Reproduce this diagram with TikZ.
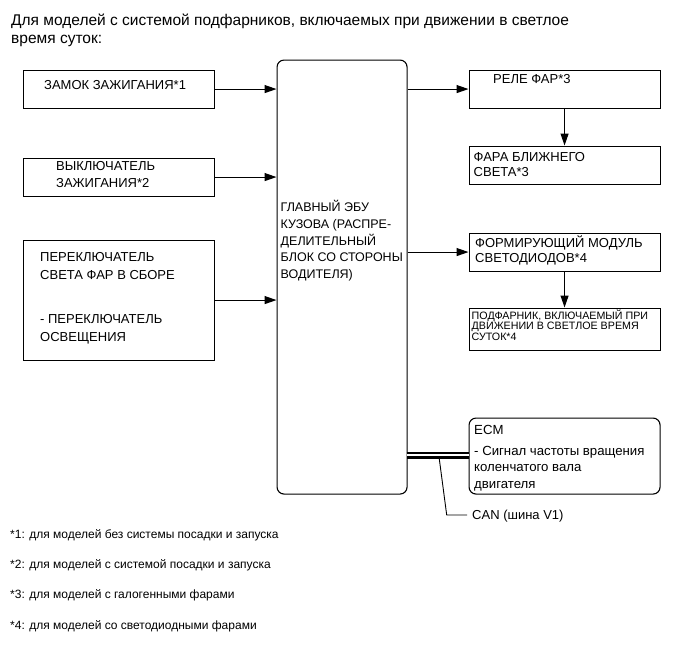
\documentclass[tikz,border=0pt]{standalone}
\usepackage{fontspec}
\setmainfont{Liberation Sans}
\usetikzlibrary{arrows.meta}
\begin{document}
\begin{tikzpicture}[x=1pt,y=-1pt,
  box/.style={draw=black, line width=1.1pt, anchor=north west, inner sep=0pt},
  rbox/.style={box, rounded corners=7pt},
  ln/.style={anchor=base west, inner sep=0pt},
  big/.style={ln, font=\fontsize{13}{15}\selectfont},
  ecmf/.style={ln, font=\fontsize{13.2}{15}\selectfont},
  mid/.style={ln, font=\fontsize{12.5}{15}\selectfont},
  tiny/.style={ln, font=\fontsize{10.7}{12}\selectfont},
  note/.style={ln, font=\fontsize{12}{14}\selectfont},
  ttl/.style={ln, font=\fontsize{15.5}{18}\selectfont},
  arr/.style={line width=1.1pt, -{Triangle[length=12pt,width=8pt]}}]
\useasboundingbox (0,0) rectangle (690,659);
% title
\node[ttl] (title1) at (11,25.7) {Для моделей с системой подфарников, включаемых при движении в светлое};
\node[ttl] (title2) at (11,43.5) {время суток:};
% left boxes
\node[box, minimum width=191pt, minimum height=38pt] (b1) at (22.5,69.5) {};
\node[big] (t1) at (44,89.5) {ЗАМОК ЗАЖИГАНИЯ*1};
\node[box, minimum width=191pt, minimum height=38pt] (b2) at (22.5,157.5) {};
\node[big] (t2a) at (56,170.5) {ВЫКЛЮЧАТЕЛЬ};
\node[big] (t2b) at (56,187.5) {ЗАЖИГАНИЯ*2};
\node[box, minimum width=191pt, minimum height=120pt] (b3) at (22.5,239.5) {};
\node[big] (t3a) at (40,261) {ПЕРЕКЛЮЧАТЕЛЬ};
\node[big] (t3b) at (40,279) {СВЕТА ФАР В СБОРЕ};
\node[big] (t3c) at (40,323) {- ПЕРЕКЛЮЧАТЕЛЬ};
\node[big] (t3d) at (40,341) {ОСВЕЩЕНИЯ};
% main
\node[rbox, minimum width=130pt, minimum height=434pt] (main) at (276.5,59.5) {};
\node[mid] (m1) at (280.5,211.7) {ГЛАВНЫЙ ЭБУ};
\node[mid] (m2) at (280.5,228.4) {КУЗОВА (РАСПРЕ-};
\node[mid] (m3) at (280.5,245.1) {ДЕЛИТЕЛЬНЫЙ};
\node[mid] (m4) at (280.5,261.8) {БЛОК СО СТОРОНЫ};
\node[mid] (m5) at (280.5,278.5) {ВОДИТЕЛЯ)};
% right boxes
\node[box, minimum width=191pt, minimum height=38pt] (r1) at (468.5,69.5) {};
\node[big] (tr1) at (493,83.3) {РЕЛЕ ФАР*3};
\node[box, minimum width=191pt, minimum height=38pt] (r2) at (468.5,145.5) {};
\node[big] (tr2a) at (473.5,161) {ФАРА БЛИЖНЕГО};
\node[big] (tr2b) at (473.5,176) {СВЕТА*3};
\node[box, minimum width=191pt, minimum height=38pt] (r3) at (468.5,232.5) {};
\node[big] (tr3a) at (475,247.5) {ФОРМИРУЮЩИЙ МОДУЛЬ};
\node[big] (tr3b) at (475,262) {СВЕТОДИОДОВ*4};
\node[box, minimum width=191pt, minimum height=42pt] (r4) at (468.5,307.5) {};
\node[tiny] (tr4a) at (471.5,319.3) {ПОДФАРНИК, ВКЛЮЧАЕМЫЙ ПРИ};
\node[tiny] (tr4b) at (471.5,329.8) {ДВИЖЕНИИ В СВЕТЛОЕ ВРЕМЯ};
\node[tiny] (tr4c) at (471.5,340.3) {СУТОК*4};
\node[rbox, minimum width=191pt, minimum height=76pt] (ecm) at (468.5,417.5) {};
\node[ecmf] (te1) at (474,434) {ECM};
\node[ecmf] (te2) at (474,455) {- Сигнал частоты вращения};
\node[ecmf] (te3) at (474,471.5) {коленчатого вала};
\node[ecmf] (te4) at (474,488.5) {двигателя};
% arrows
\draw[arr] (b1.east) -- (main.west |- b1.east);
\draw[arr] (b2.east) -- (main.west |- b2.east);
\draw[arr] (b3.east) -- (main.west |- b3.east);
\draw[arr] (main.east |- r1.west) -- (r1.west);
\draw[arr] (main.east |- r3.west) -- (r3.west);
\draw[arr] (r1.south) -- (r2.north);
\draw[arr] (r3.south) -- (r4.north);
% CAN
\coordinate (canL) at (406.5,455.2);
\draw[line width=2.4pt, double=white, double distance=2.4pt] (canL) -- (ecm.west |- canL);
\coordinate (c1) at (439.3,459);
\coordinate (c2) at (446.7,515);
\coordinate (c3) at (467,515);
\draw[line width=0.9pt] (c1) -- (c2) -- (c3);
\node[big] (can) at (472,519.3) {CAN (шина V1)};
% notes
\node[note] (n1) at (10,538.3) {*1: для моделей без системы посадки и запуска};
\node[note] (n2) at (10,568.3) {*2: для моделей с системой посадки и запуска};
\node[note] (n3) at (10,598.3) {*3: для моделей с галогенными фарами};
\node[note] (n4) at (10,629) {*4: для моделей со светодиодными фарами};
\end{tikzpicture}
\end{document}
